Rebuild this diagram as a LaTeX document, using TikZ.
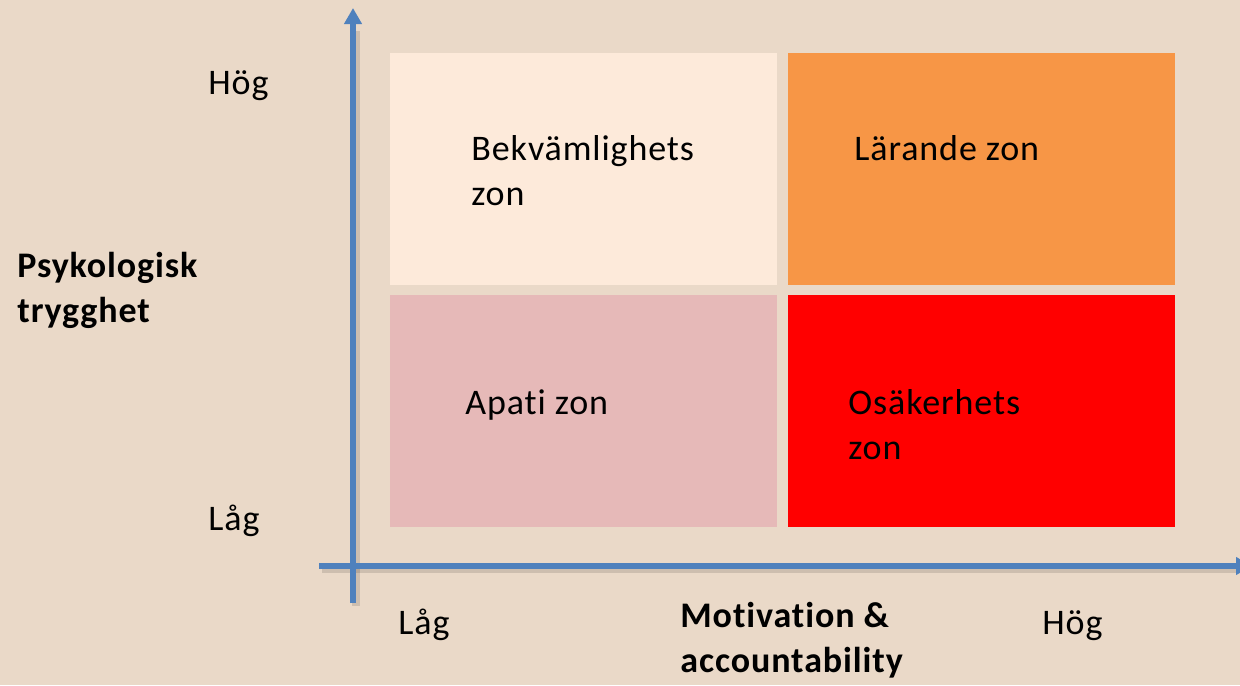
\documentclass[tikz,border=0pt]{standalone}
\usepackage{fontspec}
\setmainfont{Carlito}[LetterSpace=2.5,Ligatures=NoCommon]
\usetikzlibrary{arrows.meta}
\definecolor{bg}{HTML}{EAD9C8}
\definecolor{zoneA}{HTML}{FDEADA}
\definecolor{zoneB}{HTML}{F79646}
\definecolor{zoneC}{HTML}{E6B9B8}
\definecolor{zoneD}{HTML}{FF0000}
\definecolor{axisblue}{HTML}{4F81BD}
\tikzset{
  zonebox/.style={draw=none, rectangle, inner sep=0pt, minimum width=193.5pt, minimum height=116pt, anchor=north west},
  zonetext/.style={anchor=base west, inner sep=0pt, align=left, font=\fontsize{18pt}{22.5pt}\selectfont},
  ticktext/.style={anchor=base west, inner sep=0pt, font=\fontsize{18pt}{22.5pt}\selectfont},
  axistitle/.style={anchor=base west, inner sep=0pt, align=left, font=\fontsize{18pt}{22.5pt}\selectfont\bfseries},
  axisline/.style={draw=axisblue, line width=3pt, -{Triangle[width=8.5pt,length=8pt]}},
  axisshadow/.style={draw=black, opacity=0.12, line width=4pt}
}
\begin{document}
\begin{tikzpicture}[x=0.5pt,y=-0.5pt]
\fill[bg] (0,0) rectangle (1240,685);
\useasboundingbox (0,0) rectangle (1240,685);
\clip (0,0) rectangle (1240,685);
% zones
\node[zonebox, fill=zoneA] (za) at (390,53) {};
\node[zonebox, fill=zoneB] (zb) at (788,53) {};
\node[zonebox, fill=zoneC] (zc) at (390,295) {};
\node[zonebox, fill=zoneD] (zd) at (788,295) {};
% zone labels (multi-line: anchor is last baseline)
\node[zonetext] (ta) at (471,205) {Bekvämlighets\\zon};
\node[zonetext] (tb) at (854,160) {Lärande zon};
\node[zonetext] (tc) at (465,414) {Apati zon};
\node[zonetext] (td) at (848,459) {Osäkerhets\\zon};
% axes
\coordinate (ybot) at (353,603);
\coordinate (ytop) at (353,8);
\coordinate (xleft) at (319,566);
\coordinate (xright) at (1252,566);
\draw[axisshadow] ([shift={(3,3)}]ybot) -- ([shift={(3,3)}]353,28);
\draw[axisshadow] ([shift={(3,3)}]xleft) -- ([shift={(3,3)}]1236,566);
\draw[axisline] (ybot) -- (ytop);
\draw[axisline] (xleft) -- (xright);
% tick labels
\node[ticktext] (yhi) at (208,94) {Hög};
\node[ticktext] (ylo) at (208,530) {Låg};
\node[ticktext] (xlo) at (398,634) {Låg};
\node[ticktext] (xhi) at (1042,634) {Hög};
% axis titles
\node[axistitle] (ytitle) at (17,322) {Psykologisk\\trygghet};
\node[axistitle] (xtitle) at (680,672) {Motivation \&\\accountability};
\end{tikzpicture}
\end{document}
